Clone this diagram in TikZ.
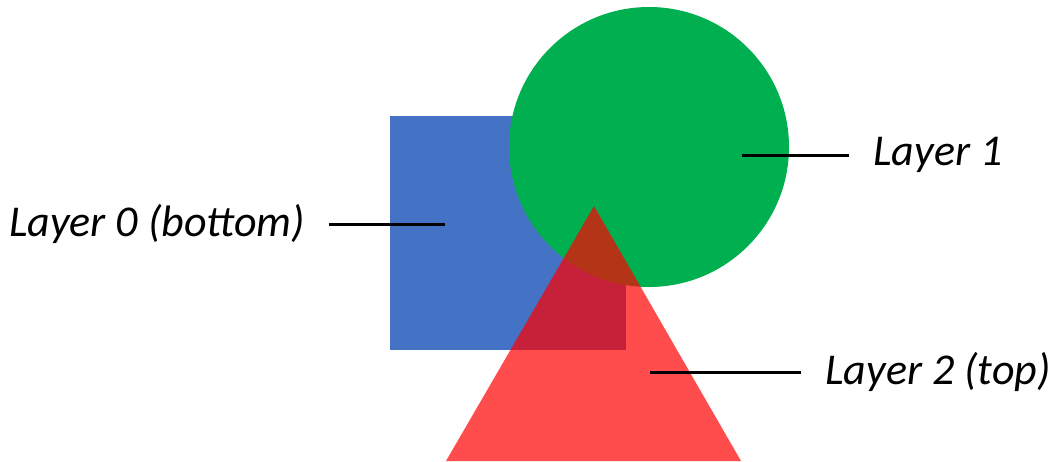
\documentclass[tikz,border=0pt]{standalone}
\usepackage{fontspec}
\setmainfont{Carlito}
\usepackage{xcolor}
\usepackage{tikz}
\usetikzlibrary{positioning}
\definecolor{sqblue}{HTML}{4472C4}
\definecolor{cgreen}{HTML}{00B050}
\definecolor{tred}{HTML}{FF0000}

\begin{document}
\begin{tikzpicture}[x=1pt,y=-1pt,
 lbl/.style={font=\fontsize{44}{50}\selectfont\itshape,inner sep=0pt,outer sep=0pt,inner xsep=24pt},
 leader/.style={draw=black,line width=3pt}]
\useasboundingbox (0,0) rectangle (1056,461);
% layers, bottom to top
\fill[sqblue] (390,116) rectangle (626,350);
\fill[cgreen] (649,147) circle (140);
\fill[tred,fill opacity=0.7] (594,206) -- (741,461) -- (446,461) -- cycle;
% leader ends
\coordinate (p0) at (445,224);
\coordinate (p1) at (742,155);
\coordinate (p2) at (650,372);
\node[lbl] (l0) at (157,224) {Layer 0 (bottom)};
\node[lbl] (l1) at (938,155) {Layer 1};
\node[lbl] (l2) at (938,372) {Layer 2 (top)};
\draw[leader] (l0) -- (p0);
\draw[leader] (l1) -- (p1);
\draw[leader] (l2) -- (p2);
\end{tikzpicture}
\end{document}
